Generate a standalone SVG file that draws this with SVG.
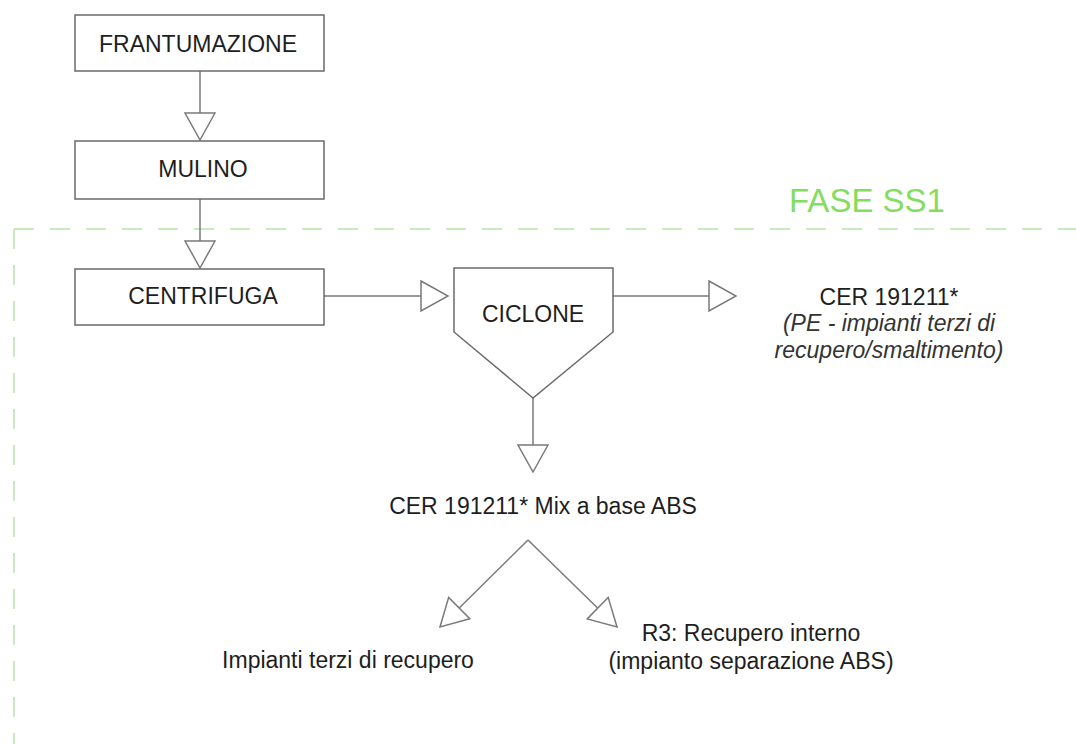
<svg xmlns="http://www.w3.org/2000/svg" width="1076" height="744" viewBox="0 0 1076 744">
<style>
.box{fill:#fff;stroke:#6a6a6a;stroke-width:1.5}
.conn{fill:none;stroke:#7a7a7a;stroke-width:1.5}
.t{font-family:"Liberation Sans",Arial,sans-serif;font-size:23px;fill:#1e1e1e;text-anchor:middle}
.it{font-style:italic;fill:#333}
.phase{fill:none;stroke:#b9e4a8;stroke-width:1.5;stroke-dasharray:20 16}
</style>
<defs>
<marker id="tri" markerUnits="userSpaceOnUse" markerWidth="30" markerHeight="32" refX="27" refY="15" orient="auto" overflow="visible">
<path d="M0,0 L27,15 L0,30 Z" fill="#fff" stroke="#7a7a7a" stroke-width="1.5"/>
</marker>
</defs>
<rect width="1076" height="744" fill="#fff"/>
<g id="phase-ss1">
<path class="phase" d="M14,229 H1076 M14,229 V744"/>
<text x="867" y="212" font-family="'Liberation Sans',Arial,sans-serif" font-size="33" fill="#84dc60" text-anchor="middle">FASE SS1</text>
</g>
<g id="connectors">
<line class="conn" x1="200" y1="71" x2="200" y2="140" marker-end="url(#tri)"/>
<line class="conn" x1="200" y1="199" x2="200" y2="268" marker-end="url(#tri)"/>
<line class="conn" x1="324" y1="296" x2="448" y2="296" marker-end="url(#tri)"/>
<line class="conn" x1="613" y1="296" x2="736" y2="296" marker-end="url(#tri)"/>
<line class="conn" x1="533" y1="398" x2="533" y2="472" marker-end="url(#tri)"/>
<line class="conn" x1="528" y1="540" x2="440" y2="627" marker-end="url(#tri)"/>
<line class="conn" x1="528" y1="540" x2="617" y2="627" marker-end="url(#tri)"/>
</g>
<g id="frantumazione">
<rect class="box" x="75" y="15" width="249" height="56"/>
<text class="t" x="198" y="52">FRANTUMAZIONE</text>
</g>
<g id="mulino">
<rect class="box" x="75" y="141" width="249" height="58"/>
<text class="t" x="203" y="177">MULINO</text>
</g>
<g id="centrifuga">
<rect class="box" x="75" y="269" width="249" height="56"/>
<text class="t" x="203" y="304">CENTRIFUGA</text>
</g>
<g id="ciclone">
<polygon class="box" points="454,268 613,268 613,332 533,398 454,332"/>
<text class="t" x="533" y="322">CICLONE</text>
</g>
<g id="cer-pe">
<text class="t" x="889" y="305">CER 191211*</text>
<text class="t it" x="889" y="331">(PE - impianti terzi di</text>
<text class="t it" x="889" y="358">recupero/smaltimento)</text>
</g>
<g id="cer-abs">
<text class="t" x="543" y="514">CER 191211* Mix a base ABS</text>
</g>
<g id="impianti-terzi">
<text class="t" x="348" y="668">Impianti terzi di recupero</text>
</g>
<g id="r3">
<text class="t" x="751" y="641">R3: Recupero interno</text>
<text class="t" x="751" y="669">(impianto separazione ABS)</text>
</g>
</svg>
